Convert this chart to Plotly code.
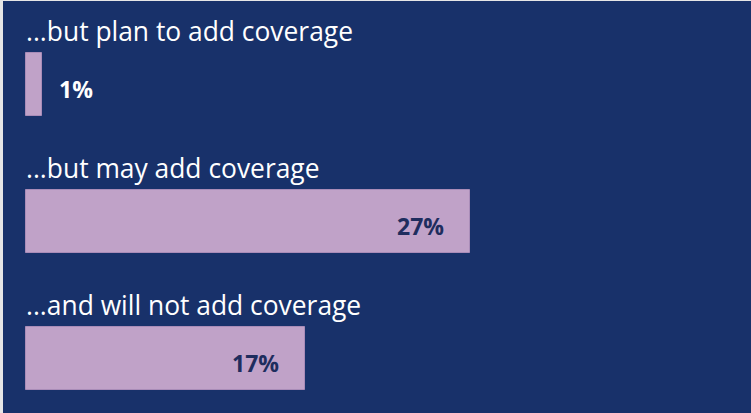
import plotly.graph_objects as go

categories = ["...but plan to add coverage", "...but may add coverage", "...and will not add coverage"]
values = [1, 27, 17]
labels = ["1%", "27%", "17%"]

NAVY = "#18316a"
BAR = "#c0a2c8"
BAR_LINE = "#a98cb8"
DARK_TXT = "#1e2d5e"

ypos = list(range(len(categories)))

fig = go.Figure()
fig.add_trace(go.Bar(
    x=values, y=ypos, orientation="h", width=0.46,
    marker=dict(color=BAR, line=dict(color=BAR_LINE, width=1)),
    hoverinfo="skip",
))

annotations = []
for i, (c, v, lab) in enumerate(zip(categories, values, labels)):
    annotations.append(dict(
        x=0, y=i - 0.39, xref="x", yref="y", text=c, showarrow=False,
        xanchor="left", yanchor="middle", xshift=-2,
        font=dict(family="Open Sans", size=26.4, color="white"),
    ))
    if v < 5:
        annotations.append(dict(
            x=v, y=i, xref="x", yref="y", text=lab, showarrow=False,
            xanchor="left", yanchor="middle", xshift=15, yshift=-4,
            font=dict(family="Open Sans", size=23, color="white", weight="bold"),
        ))
    else:
        annotations.append(dict(
            x=v, y=i, xref="x", yref="y", text=lab, showarrow=False,
            xanchor="right", yanchor="middle", xshift=-24, yshift=-4,
            font=dict(family="Open Sans", size=23, color=DARK_TXT, weight="bold"),
        ))

px_per = 16.45
x0 = 25.5
fig.update_layout(
    width=751, height=413,
    margin=dict(l=3, r=0, t=1, b=0),
    paper_bgcolor="#e6e6e6",
    plot_bgcolor=NAVY,
    showlegend=False,
    bargap=0,
    xaxis=dict(range=[(3 - x0) / px_per, (751 - x0) / px_per], visible=False, fixedrange=True),
    yaxis=dict(range=[2 + (413 - 358.5) / 137, -(84.5 - 1) / 137], visible=False, fixedrange=True),
    annotations=annotations,
)

fig.write_html("out.html")
